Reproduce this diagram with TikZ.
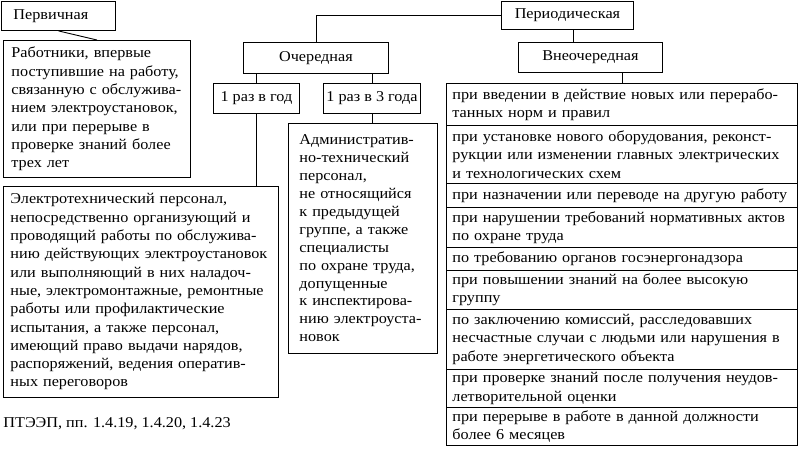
\documentclass[tikz,border=0pt]{standalone}
\usepackage{fontspec}
\setmainfont{Liberation Serif}[FakeStretch=1.08]
\usetikzlibrary{calc}
\newcommand\fs{\fontsize{15}{18.3}\selectfont}
\newcommand\fsa{\fontsize{15}{17.9}\selectfont}
\newcommand\mybox[7][]{%
  \pgfmathsetmacro\bw{#5-#3}%
  \pgfmathsetmacro\bh{#6-#4}%
  \node[bx, minimum width=\bw pt, minimum height=\bh pt, #1] (#2) at (#3,#4) {#7};%
}
\begin{document}
\begin{tikzpicture}[x=1pt,y=-1pt,line width=0.9pt,
  bx/.style={draw, rectangle, anchor=north west, inner sep=0pt, font=\fs},
  lt/.style={align=left, text width=#1},
  conn/.style={draw, line width=0.9pt}]
\useasboundingbox (0,0) rectangle (800,450);
% left branch
\mybox[inner xsep=12pt, lt=90pt]{perv}{1}{1}{115}{30}{Первичная}
\mybox[inner xsep=8pt, lt=171pt]{rab}{3}{40}{190}{177}{Работники, впервые\\поступившие на работу,\\связанную с обслужива-\\нием электроустановок,\\или при перерыве в\\проверке знаний более\\трех лет}
\mybox[inner xsep=7pt, lt=261pt]{elec}{3}{186}{278}{397}{Электротехнический персонал,\\непосредственно организующий и\\проводящий работы по обслужива-\\нию действующих электроустановок\\или выполняющий в них наладоч-\\ные, электромонтажные, ремонтные\\работы или профилактические\\испытания, а также персонал,\\имеющий право выдачи нарядов,\\распоряжений, ведения оператив-\\ных переговоров}
% middle branch
\mybox{och}{243}{42}{388}{73}{Очередная}
\mybox{god1}{213}{83}{299}{113}{1 раз в год}
\mybox{god3}{323}{83}{420}{113}{1 раз в 3 года}
\mybox[inner xsep=11pt, lt=127pt, font=\fsa]{adm}{288}{123}{437}{353}{Административ-\\но-технический\\персонал,\\не относящийся\\к предыдущей\\группе, а также\\специалисты\\по охране труда,\\допущенные\\к инспектирова-\\нию электроуста-\\новок}
% right branch
\mybox{period}{501}{1}{633}{29}{Периодическая}
\mybox{vne}{518}{42}{662}{72}{Внеочередная}
\mybox[inner xsep=6pt, lt=339pt]{r1}{446}{83}{797}{125}{при введении в действие новых или перерабо-\\танных норм и правил}
\mybox[inner xsep=6pt, lt=339pt]{r2}{446}{125}{797}{183}{при установке нового оборудования, реконст-\\рукции или изменении главных электрических\\и технологических схем}
\mybox[inner xsep=6pt, lt=339pt]{r3}{446}{183}{797}{207}{при назначении или переводе на другую работу}
\mybox[inner xsep=6pt, lt=339pt]{r4}{446}{207}{797}{247}{при нарушении требований нормативных актов\\по охране труда}
\mybox[inner xsep=6pt, lt=339pt]{r5}{446}{247}{797}{270}{по требованию органов госэнергонадзора}
\mybox[inner xsep=6pt, lt=339pt]{r6}{446}{270}{797}{309}{при повышении знаний на более высокую\\группу}
\mybox[inner xsep=6pt, lt=339pt]{r7}{446}{309}{797}{369}{по заключению комиссий, расследовавших\\несчастные случаи с людьми или нарушения в\\работе энергетического объекта}
\mybox[inner xsep=6pt, lt=339pt]{r8}{446}{369}{797}{407}{при проверке знаний после получения неудов-\\летворительной оценки}
\mybox[inner xsep=6pt, lt=339pt]{r9}{446}{407}{797}{445}{при перерыве в работе в данной должности\\более 6 месяцев}
% footnote
\node[font=\fs, anchor=west, inner sep=0pt] (note) at (3,424) {ПТЭЭП, пп. 1.4.19, 1.4.20, 1.4.23};
% connectors
\draw[conn] (perv.south) -- (rab.north);
\draw[conn] (och.north) |- (period.west);
\draw[conn] (god1.north) -- (god1.north |- och.south);
\draw[conn] (god3.north) -- (god3.north |- och.south);
\draw[conn] (god1.south) -- (god1.south |- elec.north);
\draw[conn] (god3.south) -- (god3.south |- adm.north);
\draw[conn] ([xshift=6pt]period.south) -- ([xshift=6pt]period.south |- vne.north);
\draw[conn] (r1.north) -- (r1.north |- vne.south);
\end{tikzpicture}
\end{document}
